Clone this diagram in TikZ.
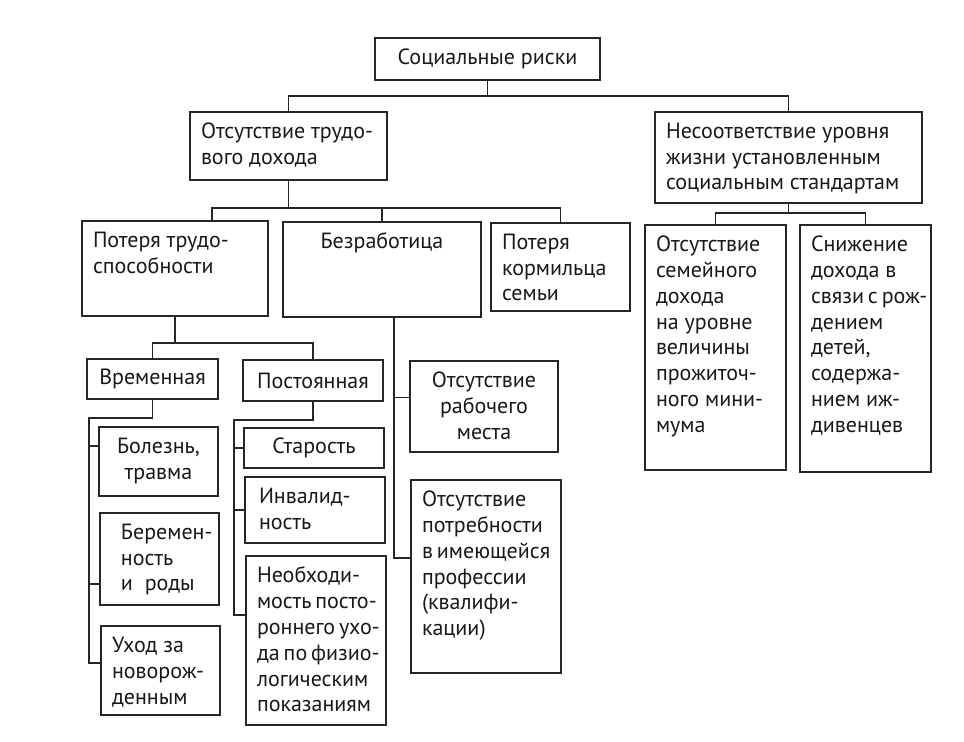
\documentclass[tikz,border=0pt]{standalone}
\usepackage{fontspec}
\setmainfont{PT Sans}
\usepackage{tikz}

\newlength{\riskpad}
\setlength{\riskpad}{5.5pt}
% box from (left,top) to (right,bottom), in pixels of the scan
\newcommand{\riskbox}[7]{%
  \node[riskbox] (#1) at (#2,#3)
    {\begin{minipage}[t][\dimexpr(#5pt-#3pt)/2-2\riskpad\relax][#6]{\dimexpr(#4pt-#2pt)/2-2\riskpad\relax}%
      \raggedright\hyphenpenalty=10000 \exhyphenpenalty=10000 \hbadness=10000 \hfuzz=20pt #7\end{minipage}};}

\begin{document}
\begin{tikzpicture}[x=0.5pt, y=-0.5pt,
    riskbox/.style={draw=black!85, line width=0.6pt, anchor=north west, inner sep=\riskpad,
      outer sep=0pt, text=black!90, font=\fontsize{11pt}{12.9pt}\selectfont},
    link/.style={draw=black!85, line width=0.6pt}]
  \fill[white] (0,0) rectangle (964,742);

  \riskbox{risk}{375}{38}{600}{80}{c}{\centering Социальные~риски}
  \riskbox{nolab}{190}{112}{387}{180}{t}{Отсутствие~трудо-\\вого~дохода}
  \riskbox{mismatch}{655}{112}{922}{203}{t}{Несоответствие~уровня\\жизни~установленным\\социальным~стандартам}

  \riskbox{disab}{82}{221}{268}{316}{t}{Потеря~трудо-\\способности}
  \riskbox{unemp}{283}{222}{481}{317}{t}{\centering Безработица}
  \riskbox{bread}{491}{223}{630}{311}{t}{Потеря\\кормильца\\семьи}
  \riskbox{famin}{645}{225}{786}{470}{t}{Отсутствие\\семейного\\дохода\\на~уровне\\величины\\прожиточ-\\ного~мини-\\мума}
  \riskbox{child}{800}{225}{931}{472}{t}{Снижение\\дохода~в\\связи~с~рож-\\дением\\детей,\\содержа-\\нием~иж-\\дивенцев}

  \riskbox{temp}{87}{359}{218}{399}{c}{\centering Временная}
  \riskbox{perm}{243}{360}{383}{401}{c}{\centering Постоянная}
  \riskbox{ill}{99}{427}{218}{496}{t}{\centering Болезнь,\\травма}
  \riskbox{preg}{100}{513}{219}{605}{t}{\leftskip=5pt Беремен-\\ность\\и~~роды}
  \riskbox{care}{101}{626}{220}{715}{t}{Уход~за\\новорож-\\денным}
  \riskbox{old}{244}{428}{384}{468}{c}{\centering Старость}
  \riskbox{inv}{245}{477}{385}{543}{t}{\leftskip=1.5pt Инвалид-\\ность}
  \riskbox{need}{246}{556}{386}{725}{t}{Необходи-\\мость~посто-\\роннего~ухо-\\да~по~физио-\\логическим\\показаниям}
  \riskbox{job}{410}{361}{558}{452}{t}{\centering Отсутствие\\рабочего\\места}
  \riskbox{prof}{411}{480}{561}{673}{t}{Отсутствие\\потребности\\в~имеющейся\\профессии\\(квалифи-\\кации)}

  \draw[link] (risk.south) -- ++(0,16) -| (nolab.north);
  \draw[link] (risk.south) -- ++(0,16) -| (mismatch.north);
  \draw[link] (nolab.south) -- ++(0,28) -| ([xshift=18.5pt]disab.north);
  \draw[link] (nolab.south) -- ++(0,28) -| (unemp.north);
  \draw[link] (nolab.south) -- ++(0,28) -| (bread.north);
  \draw[link] (mismatch.south) -- ++(0,10) -| (famin.north);
  \draw[link] (mismatch.south) -- ++(0,10) -| (child.north);
  \draw[link] (disab.south) -- ++(0,27) -| (temp.north);
  \draw[link] (disab.south) -- ++(0,27) -| (perm.north);

  \draw[link] (temp.south) -- ++(0,19) -| ([xshift=-6pt,yshift=3.75pt]care.west) -- ([yshift=3.75pt]care.west);
  \draw[link] ([yshift=7.75pt]ill.west) -- ++(-10,0);
  \draw[link] ([yshift=-12.5pt]preg.west) -- ++(-11,0);
  \draw[link] (perm.south) -- ++(0,19) -| ([xshift=-6pt,yshift=12.75pt]need.west) -- ([yshift=12.75pt]need.west);
  \draw[link] (old.west) -- ++(-10,0);
  \draw[link] (inv.west) -- ++(-11,0);
  \draw[link] ([xshift=6pt]unemp.south) |- ([yshift=9.25pt]prof.west);
  \draw[link] ([yshift=4.5pt]job.west) -- ++(-16,0);
\end{tikzpicture}
\end{document}
